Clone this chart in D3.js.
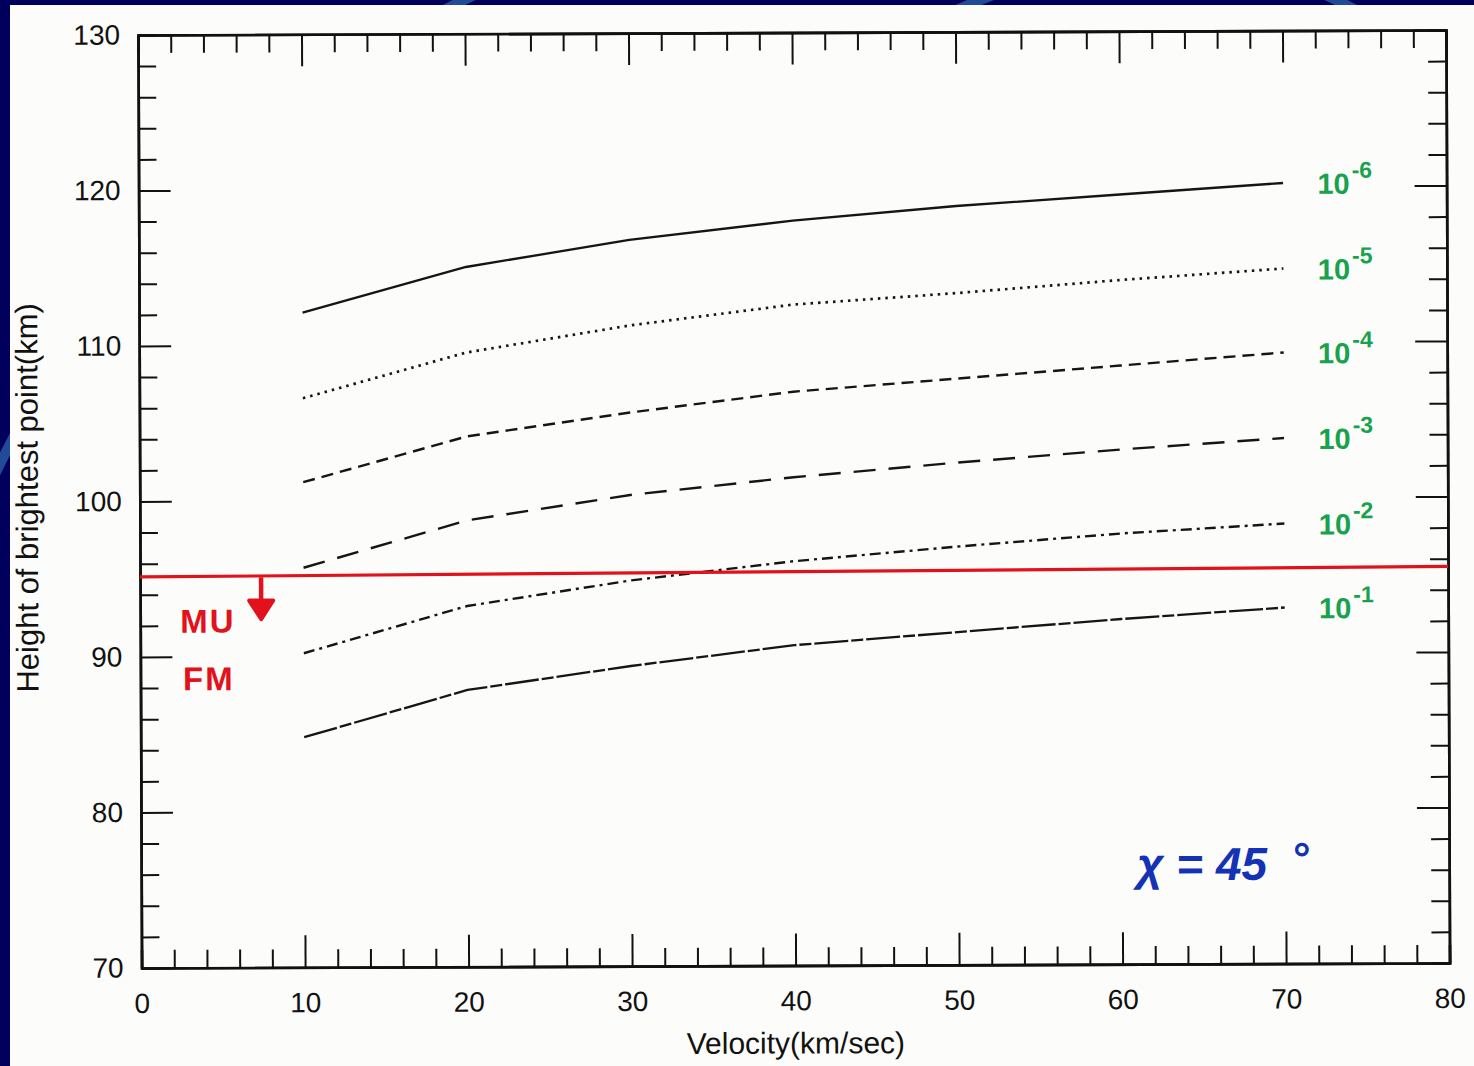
<!DOCTYPE html>
<html>
<head>
<meta charset="utf-8">
<script src="https://d3js.org/d3.v7.min.js"></script>
<style>
  html, body { margin: 0; padding: 0; background: #00005c; overflow: hidden; }
  svg { display: block; }
  text { font-family: "Liberation Sans", Arial, Helvetica, sans-serif; }
</style>
</head>
<body>
<svg id="chart" width="1474" height="1066"></svg>
<script>
// velocity (km/sec) and height of brightest point (km) for each log mass
const velocity = [10, 20, 30, 40, 50, 60, 70];
const height1e6 = [112.1, 115.0, 116.7, 117.9, 118.8, 119.5, 120.2];
const height1e5 = [106.6, 109.5, 111.2, 112.5, 113.2, 114.0, 114.7];
const height1e4 = [101.2, 104.1, 105.6, 106.9, 107.7, 108.5, 109.3];
const height1e3 = [95.7, 98.7, 100.3, 101.4, 102.3, 103.1, 103.8];
const height1e2 = [90.2, 93.2, 94.8, 96.0, 96.9, 97.7, 98.3];
const height1e1 = [84.8, 87.8, 89.3, 90.6, 91.4, 92.2, 92.9];
const exponents = ["-6", "-5", "-4", "-3", "-2", "-1"];
const xTicks = [0, 10, 20, 30, 40, 50, 60, 70, 80];
const yTicks = [70, 80, 90, 100, 110, 120, 130];
const radarVel = [0, 80];
const radarHeight = [95.15, 95.5]; // MU radar limit, hand drawn

const series = [
  { values: height1e6, dash: null, w: 2.3, exp: exponents[0] },
  { values: height1e5, dash: "2.5,5", w: 2.7, exp: exponents[1] },
  { values: height1e4, dash: "12,7", w: 2.4, exp: exponents[2] },
  { values: height1e3, dash: "22,13", w: 2.4, exp: exponents[3] },
  { values: height1e2, dash: "11,5,3,5", w: 2.4, exp: exponents[4] },
  { values: height1e1, dash: "34,3,12,3", w: 2.3, exp: exponents[5] }
];

const svg = d3.select("#chart");
const W = 1308, H = 933;

// slide background + scanned paper
svg.append("rect").attr("width", 1474).attr("height", 1066).attr("fill", "#00005c");
const arcs = svg.append("g").attr("fill", "none").attr("stroke", "#2a5ea8").attr("stroke-width", 10).attr("opacity", 0.8);
arcs.append("circle").attr("cx", 900).attr("cy", 900).attr("r", 1000);
arcs.append("circle").attr("cx", 1500).attr("cy", 1300).attr("r", 1400);
svg.append("rect").attr("x", 10).attr("y", 5).attr("width", 1470).attr("height", 1070).attr("fill", "#fcfcfa");

const g = svg.append("g").attr("transform", "translate(138,35) rotate(-0.22)");

const x = d3.scaleLinear().domain([0, 80]).range([0, W]);
const y = d3.scaleLinear().domain([70, 130]).range([H, 0]);

function styleAxis(sel) {
  sel.selectAll(".domain").attr("stroke", "#111").attr("stroke-width", 2.6);
  sel.selectAll(".tick line").attr("stroke", "#111").attr("stroke-width", 2);
  sel.selectAll("text").attr("fill", "#111").style("font-size", "28px")
    .style("font-family", "'Liberation Sans', Arial, sans-serif");
}

const minorX = d3.range(0, 81, 2).filter(d => d % 10 !== 0);
const minorY = d3.range(70, 131, 2).filter(d => d % 10 !== 0);

// bottom
g.append("g").attr("transform", `translate(0,${H})`)
  .call(d3.axisBottom(x).tickValues(xTicks).tickSizeInner(-32).tickSizeOuter(0).tickPadding(25).tickFormat(d3.format("d")))
  .call(styleAxis);
g.append("g").attr("transform", `translate(0,${H})`)
  .call(d3.axisBottom(x).tickValues(minorX).tickSize(-18).tickFormat(""))
  .call(styleAxis);
// top
g.append("g")
  .call(d3.axisTop(x).tickValues(xTicks).tickSizeInner(-32).tickSizeOuter(0).tickFormat(""))
  .call(styleAxis);
g.append("g")
  .call(d3.axisTop(x).tickValues(minorX).tickSize(-18).tickFormat(""))
  .call(styleAxis);
// left
g.append("g")
  .call(d3.axisLeft(y).tickValues(yTicks).tickSizeInner(-32).tickSizeOuter(0).tickPadding(18).tickFormat(d3.format("d")))
  .call(styleAxis);
g.append("g")
  .call(d3.axisLeft(y).tickValues(minorY).tickSize(-18).tickFormat(""))
  .call(styleAxis);
// right
g.append("g").attr("transform", `translate(${W},0)`)
  .call(d3.axisRight(y).tickValues(yTicks).tickSizeInner(-32).tickSizeOuter(0).tickFormat(""))
  .call(styleAxis);
g.append("g").attr("transform", `translate(${W},0)`)
  .call(d3.axisRight(y).tickValues(minorY).tickSize(-18).tickFormat(""))
  .call(styleAxis);

// axis titles
g.append("text").attr("x", W / 2).attr("y", H + 88)
  .attr("text-anchor", "middle").attr("fill", "#111").style("font-size", "30px")
  .text("Velocity(km/sec)");
g.append("text").attr("transform", `translate(-102,${H / 2 - 4}) rotate(-90)`)
  .attr("text-anchor", "middle").attr("fill", "#111").style("font-size", "31px")
  .text("Height of brightest point(km)");

// curves
const line = d3.line().x((d, i) => x(velocity[i])).y(d => y(d));
g.append("g").selectAll("path").data(series).join("path")
  .attr("d", d => line(d.values))
  .attr("fill", "none").attr("stroke", "#151515").attr("stroke-width", d => d.w)
  .attr("stroke-dasharray", d => d.dash);

// green mass labels
const lab = g.append("g").selectAll("text").data(series).join("text")
  .attr("x", x(72.1)).attr("y", d => y(d.values[d.values.length - 1]) + 11)
  .attr("fill", "#18a24e").style("font-weight", "bold").style("font-size", "29px");
lab.append("tspan").text("10");
lab.append("tspan").attr("dy", -16).attr("dx", 2).style("font-size", "23px").text(d => d.exp);

// red radar line and note
g.append("line")
  .attr("x1", x(radarVel[0])).attr("y1", y(radarHeight[0]))
  .attr("x2", x(radarVel[1])).attr("y2", y(radarHeight[1]))
  .attr("stroke", "#e2121c").attr("stroke-width", 3.2);
g.append("path")
  .attr("d", `M${x(7.4)},${y(95.1)} L${x(7.4)},${y(92.9)}`)
  .attr("stroke", "#e2121c").attr("stroke-width", 4.5).attr("fill", "none");
g.append("path")
  .attr("d", `M${x(7.4) - 12},${y(93.6)} L${x(7.4)},${y(92.4)} L${x(7.4) + 12},${y(93.6)} Z`)
  .attr("fill", "#e2121c").attr("stroke", "#e2121c").attr("stroke-width", 4).attr("stroke-linejoin", "round");
g.append("text").attr("x", x(2.45)).attr("y", y(91.55))
  .attr("fill", "#e2121c").style("font-weight", "bold").style("font-size", "33px")
  .style("letter-spacing", "2px").text("MU");
g.append("text").attr("x", x(2.6)).attr("y", y(87.85))
  .attr("fill", "#e2121c").style("font-weight", "bold").style("font-size", "33px")
  .style("letter-spacing", "2px").text("FM");

// zenith angle note
const chi = g.append("text").attr("x", x(60.9)).attr("y", y(75.4))
  .attr("fill", "#1432b4").style("font-weight", "bold").style("font-style", "italic").style("font-size", "46px");
chi.append("tspan").text("χ = 45");
chi.append("tspan").attr("dx", 24).attr("dy", -6).style("font-size", "44px").text("°");
</script>
</body>
</html>
